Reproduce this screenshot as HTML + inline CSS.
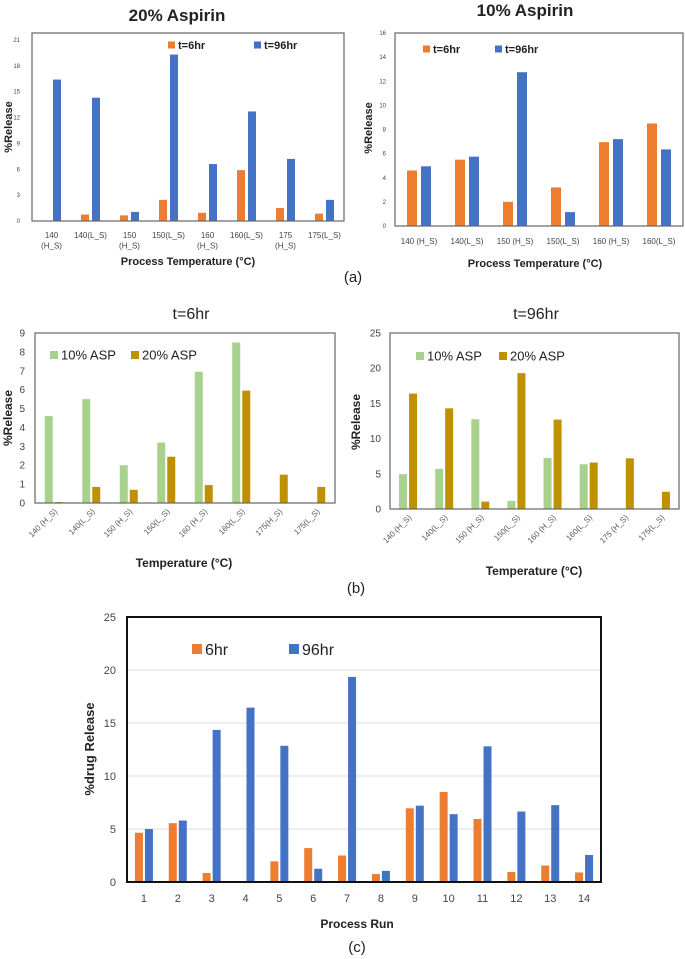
<!DOCTYPE html>
<html><head><meta charset="utf-8">
<style>
html,body{margin:0;padding:0;background:#fff;}
svg{display:block;font-family:"Liberation Sans",sans-serif;}
</style></head>
<body>
<svg id="fig" width="685" height="959" viewBox="0 0 685 959" xmlns="http://www.w3.org/2000/svg"></svg>
<script>
// ---- Data ----
const catsA20 = ["140|(H_S)","140(L_S)","150|(H_S)","150(L_S)","160|(H_S)","160(L_S)","175|(H_S)","175(L_S)"];
const a20_6hr = [0, 0.75, 0.65, 2.45, 0.95, 5.9, 1.5, 0.85];
const a20_96hr = [16.4, 14.3, 1.05, 19.3, 6.6, 12.7, 7.2, 2.45];
const ticksA20 = [0,3,6,9,12,15,18,21];

const catsA10 = ["140 (H_S)","140(L_S)","150 (H_S)","150(L_S)","160 (H_S)","160(L_S)"];
const a10_6hr = [4.6, 5.5, 2.0, 3.2, 6.95, 8.5];
const a10_96hr = [4.95, 5.75, 12.75, 1.15, 7.2, 6.35];
const ticksA10 = [0,2,4,6,8,10,12,14,16];

const catsB = ["140 (H_S)","140(L_S)","150 (H_S)","150(L_S)","160 (H_S)","160(L_S)","175(H_S)","175(L_S)"];
const catsB2 = ["140 (H_S)","140(L_S)","150 (H_S)","150(L_S)","160 (H_S)","160(L_S)","175 (H_S)","175(L_S)"];
const b6_10 = [4.6, 5.5, 2.0, 3.2, 6.95, 8.5, 0, 0];
const b6_20 = [0.05, 0.85, 0.7, 2.45, 0.95, 5.95, 1.5, 0.85];
const ticksB6 = [0,1,2,3,4,5,6,7,8,9];
const b96_10 = [4.95, 5.7, 12.75, 1.15, 7.25, 6.35, 0, 0];
const b96_20 = [16.4, 14.3, 1.05, 19.3, 12.7, 6.6, 7.2, 2.45];
const ticksB96 = [0,5,10,15,20,25];

const catsC = ["1","2","3","4","5","6","7","8","9","10","11","12","13","14"];
const c_6hr = [4.65, 5.55, 0.85, 0, 1.95, 3.2, 2.5, 0.75, 6.95, 8.5, 5.95, 0.95, 1.55, 0.9];
const c_96hr = [5.0, 5.8, 14.35, 16.45, 12.85, 1.25, 19.35, 1.05, 7.2, 6.4, 12.8, 6.65, 7.25, 2.55];
const ticksC = [0,5,10,15,20,25];

const NS = "http://www.w3.org/2000/svg";
const svg = document.getElementById("fig");
function mk(tag, attrs, parent, text){
  const e = document.createElementNS(NS, tag);
  for (const k in attrs) e.setAttribute(k, attrs[k]);
  if (text !== undefined) e.textContent = text;
  (parent || svg).appendChild(e);
  return e;
}

const ORANGE="#ed7d31", BLUE="#4472c4", GREEN="#a9d18e", GOLD="#bf9000";

function chart(cfg){
  const g = mk("g", {});
  
  
  const {L,R,T,B,max} = cfg;
  const y = v => B - (v/max)*(B-T);
  const n = cfg.cats.length;
  const cw = (R-L)/n;
  const x = i => L + cw*(i+0.5);
  // gridlines
  if (cfg.grid) cfg.ticks.forEach(t=>{ if(t>0 && t<max){
    const gl = mk("line",{x1:L,x2:R,y1:y(t),y2:y(t),stroke:"#e4e4e4","stroke-width":1.2},g);
    
    
  }});
  // bars
  cfg.series.forEach((s,si)=>{
    s.vals.forEach((v,i)=>{
      const off = (si - (cfg.series.length-1)/2)*(cfg.bw+cfg.gap);
      const r = mk("rect",{x:x(i)+off-cfg.bw/2,y:y(v),width:cfg.bw,height:B-y(v),fill:s.color},g);
      
      
    });
  });
  // frame
  const fr = mk("rect",{x:L,y:T,width:R-L,height:B-T,fill:"none",stroke:cfg.frame,"stroke-width":cfg.frameW},g);
  
  
  // y ticks
  cfg.ticks.forEach(t=>{
    const tx = mk("text",{x:cfg.ylx,y:y(t)+cfg.tfs*0.35,"text-anchor":"end","font-size":cfg.tfs,fill:"#444"},g,String(t));
    
    
  });
  // x labels
  cfg.cats.forEach((c,i)=>{
    let tx;
    if (cfg.rot){
      tx = mk("text",{x:x(i)+4,y:B+9,"text-anchor":"end","font-size":cfg.xfs,fill:"#555",transform:`rotate(-45 ${x(i)+4} ${B+9})`},g,c);
    } else {
      const parts = c.split("|");
      tx = mk("text",{x:x(i),y:cfg.xly,"text-anchor":"middle","font-size":cfg.xfs,fill:"#444"},g);
      parts.forEach((p,pi)=>{ mk("tspan",{x:x(i),dy:pi?cfg.xfs*1.3:0},tx,p); });
    }
    
    
  });
  // titles
  if (cfg.title){
    const t = mk("text",{x:cfg.title[1],y:cfg.title[2],"text-anchor":"middle","font-size":cfg.title[3],"font-weight":cfg.title[4],fill:"#222"},g,cfg.title[0]);
    
    
  }
  const xt = mk("text",{x:cfg.xt[1],y:cfg.xt[2],"text-anchor":"middle","font-size":cfg.xt[3],"font-weight":"bold",fill:"#222"},g,cfg.xt[0]);
  
  
  const yt = mk("text",{x:cfg.yt[1],y:cfg.yt[2],"text-anchor":"middle","font-size":cfg.yt[3],"font-weight":"bold",fill:"#222",transform:`rotate(-90 ${cfg.yt[1]} ${cfg.yt[2]})`},g,cfg.yt[0]);
  
  
  // legend
  cfg.series.forEach((s,si)=>{
    const lx = cfg.leg[si], ly = cfg.legY, sz = cfg.legS;
    const r = mk("rect",{x:lx,y:ly-sz/2,width:sz,height:sz,fill:s.color},g);
    
    
    const t = mk("text",{x:lx+sz+3,y:ly+cfg.legF*0.36,"font-size":cfg.legF,"font-weight":cfg.legW,fill:"#222"},g,s.label);
    
    
  });
}

chart({name:"chart-20-aspirin",L:32,R:344,T:33,B:221,max:21.8,cats:catsA20,ticks:ticksA20,
  series:[{vals:a20_6hr,color:ORANGE,label:"t=6hr"},{vals:a20_96hr,color:BLUE,label:"t=96hr"}],
  bw:8,gap:3,frame:"#666",frameW:1.2,ylx:20,tfs:6,xfs:8,xly:238,
  title:["20% Aspirin",177,21,17,"bold"],xt:["Process Temperature (°C)",188,265,11],yt:["%Release",12,127,11],
  leg:[168,254],legY:45,legS:7,legF:11,legW:"bold"});

chart({name:"chart-10-aspirin",L:395,R:683,T:33,B:226,max:16,cats:catsA10,ticks:ticksA10,
  series:[{vals:a10_6hr,color:ORANGE,label:"t=6hr"},{vals:a10_96hr,color:BLUE,label:"t=96hr"}],
  bw:10,gap:4,frame:"#666",frameW:1.2,ylx:386,tfs:6,xfs:8,xly:244,
  title:["10% Aspirin",525,16,17,"bold"],xt:["Process Temperature (°C)",535,267,11],yt:["%Release",372,128,11],
  leg:[423,495],legY:49,legS:7,legF:11,legW:"bold"});

chart({name:"chart-t6hr",L:35,R:335,T:333,B:503,max:9,cats:catsB,ticks:ticksB6,
  series:[{vals:b6_10,color:GREEN,label:"10% ASP"},{vals:b6_20,color:GOLD,label:"20% ASP"}],
  bw:8,gap:2,frame:"#666",frameW:1.2,ylx:25,tfs:10,xfs:8,rot:true,
  title:["t=6hr",191,319,16,"normal"],xt:["Temperature (°C)",184,567,12],yt:["%Release",12,418,12],
  leg:[50,131],legY:355,legS:8,legF:13,legW:"normal"});

chart({name:"chart-t96hr",L:390,R:679,T:333,B:509,max:25,cats:catsB2,ticks:ticksB96,
  series:[{vals:b96_10,color:GREEN,label:"10% ASP"},{vals:b96_20,color:GOLD,label:"20% ASP"}],
  bw:8,gap:2,frame:"#666",frameW:1.2,ylx:381,tfs:10,xfs:8,rot:true,
  title:["t=96hr",536,319,16,"normal"],xt:["Temperature (°C)",534,575,12],yt:["%Release",360,422,12],
  leg:[416,499],legY:356,legS:8,legF:13,legW:"normal"});

chart({name:"chart-process-runs",L:127,R:601,T:617,B:882,max:25,cats:catsC,ticks:ticksC,grid:true,
  series:[{vals:c_6hr,color:ORANGE,label:"6hr"},{vals:c_96hr,color:BLUE,label:"96hr"}],
  bw:8,gap:2,frame:"#111",frameW:2,ylx:116,tfs:11,xfs:11,xly:902,
  title:null,xt:["Process Run",357,928,12],yt:["%drug Release",94,749,13],
  leg:[192,289],legY:649,legS:10,legF:16,legW:"normal"});

[["(a)",353,282],["(b)",356,593],["(c)",357,952]].forEach(p=>{
  const t = mk("text",{x:p[1],y:p[2],"text-anchor":"middle","font-size":15,fill:"#222"},svg,p[0]);
  
  
});
</script>
</body></html>
